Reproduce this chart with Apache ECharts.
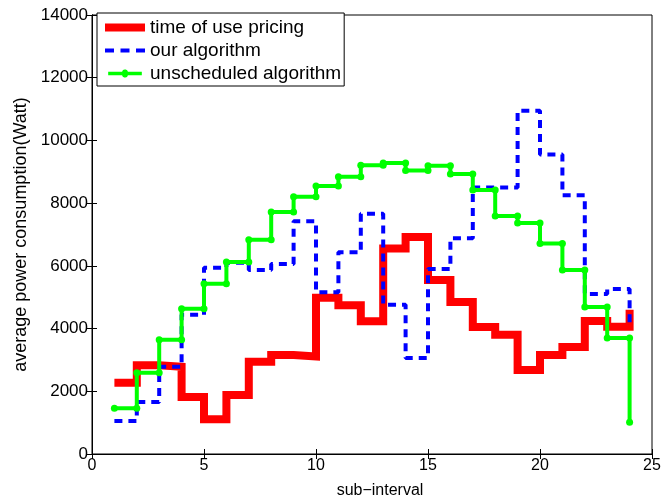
<!DOCTYPE html>
<html>
<head>
<meta charset="utf-8">
<script src="https://cdn.jsdelivr.net/npm/echarts@6/dist/echarts.min.js"></script>
<style>
  html, body { margin: 0; padding: 0; background: #fff; }
  #chart { width: 671px; height: 499px; }
</style>
</head>
<body>
<div id="chart"></div>
<script>
// sub-interval index
var subInterval = [1, 2, 3, 4, 5, 6, 7, 8, 9, 10, 11, 12, 13, 14, 15, 16, 17, 18, 19, 20, 21, 22, 23, 24];

// average power consumption (Watt)
var touPricing = [2270, 2830, 2780, 1820, 1110, 1880, 2940, 3160, 3110, 4980, 4740, 4230, 6550, 6920, 5550, 4850, 4050, 3800, 2680, 3160, 3410, 4240, 4060, 4600];
var ourAlgorithm = [1050, 1660, 2780, 4440, 5940, 6100, 5870, 6060, 7420, 5160, 6430, 7660, 4760, 3060, 5900, 6880, 8500, 8500, 10950, 9550, 8250, 5100, 5260, 4130];
var unscheduled = [1460, 2590, 3640, 4630, 5430, 6120, 6830, 7720, 8200, 8550, 8840, 9210, 9280, 9040, 9190, 8930, 8420, 7590, 7370, 6710, 5870, 4690, 3700, 1010];

var seriesNames = ["time of use pricing", "our algorithm", "unscheduled algorithm"];

// matlab stairs(): horizontal to next x, then vertical
function stairs(xs, ys) {
  var pts = [];
  for (var i = 0; i < xs.length; i++) {
    pts.push([xs[i], ys[i]]);
    if (i + 1 < xs.length) pts.push([xs[i + 1], ys[i]]);
  }
  return pts;
}

var myChart = echarts.init(document.getElementById("chart"));

var font = "Liberation Sans, Arial, sans-serif";

// legend samples like matlab: thick line / dashes / line with marker
var icons = [
  "path://M0,0L40,0L40,8L0,8Z",
  "path://M0,2L9,2L9,6L0,6ZM15.5,2L24.5,2L24.5,6L15.5,6ZM31,2L40,2L40,6L31,6Z",
  "path://M0,2L16.5,2A3.6,3.6 0 0 1 23.5,2L40,2L40,6L23.5,6A3.6,3.6 0 0 1 16.5,6L0,6Z",
];

var option = {
  animation: false,
  backgroundColor: "#fff",
  grid: {
    left: 92,
    right: 19,
    top: 15,
    bottom: 45,
    outerBoundsMode: "none",
    show: true,
    borderColor: "#000",
    borderWidth: 1,
  },
  legend: {
    left: 97,
    top: 13,
    orient: "vertical",
    backgroundColor: "#fff",
    borderColor: "#000",
    borderWidth: 1,
    borderRadius: 0,
    padding: [5, 3, 3, 8],
    itemGap: 4,
    itemWidth: 40,
    itemHeight: 8,
    symbolKeepAspect: true,
    textStyle: { fontFamily: font, fontSize: 19, color: "#000", lineHeight: 18 },
    data: [
      { name: seriesNames[0], icon: icons[0] },
      { name: seriesNames[1], icon: icons[1] },
      { name: seriesNames[2], icon: icons[2] },
    ],
  },
  xAxis: [
    {
      type: "value",
      min: 0,
      max: 25,
      interval: 5,
      name: "sub\u2212interval",
      nameLocation: "middle",
      nameGap: 29,
      nameTextStyle: { fontFamily: font, fontSize: 16, color: "#000", padding: [0, 0, 0, 16] },
      axisLine: { onZero: false, lineStyle: { color: "#000" } },
      axisTick: { inside: true, length: 5, lineStyle: { color: "#000" } },
      axisLabel: { fontFamily: font, fontSize: 16, color: "#000", margin: 4 },
      splitLine: { show: false },
    },
    {
      type: "value",
      position: "top",
      min: 0,
      max: 25,
      interval: 5,
      axisLine: { lineStyle: { color: "#000" } },
      axisTick: { inside: true, length: 5, lineStyle: { color: "#000" } },
      axisLabel: { show: false },
      splitLine: { show: false },
    },
  ],
  yAxis: [
    {
      type: "value",
      min: 0,
      max: 14000,
      interval: 2000,
      name: "average power consumption(Watt)",
      nameLocation: "middle",
      nameGap: 61,
      nameTextStyle: { fontFamily: font, fontSize: 18, color: "#000" },
      axisLine: { show: true, lineStyle: { color: "#000" } },
      axisTick: { show: true, inside: true, length: 5, lineStyle: { color: "#000" } },
      axisLabel: {
        fontFamily: font,
        fontSize: 17,
        color: "#000",
        margin: 4,
        formatter: function (v) { return String(v); },
      },
      splitLine: { show: false },
    },
    {
      type: "value",
      position: "right",
      min: 0,
      max: 14000,
      interval: 2000,
      axisLine: { show: true, lineStyle: { color: "#000" } },
      axisTick: { show: true, inside: true, length: 5, lineStyle: { color: "#000" } },
      axisLabel: { show: false },
      splitLine: { show: false },
    },
  ],
  series: [
    {
      name: seriesNames[1],
      type: "line",
      z: 3,
      data: stairs(subInterval, ourAlgorithm),
      symbol: "none",
      color: "#0000ff",
      lineStyle: { color: "#0000ff", width: 4, type: [8, 6] },
    },
    {
      name: seriesNames[0],
      type: "line",
      z: 2,
      data: stairs(subInterval, touPricing),
      symbol: "none",
      color: "#ff0000",
      lineStyle: { color: "#ff0000", width: 8, join: "miter" },
    },
    {
      name: seriesNames[2],
      type: "line",
      z: 4,
      data: stairs(subInterval, unscheduled),
      symbol: "circle",
      symbolSize: 7,
      color: "#00ff00",
      itemStyle: { color: "#00ff00" },
      lineStyle: { color: "#00ff00", width: 4 },
    },
  ],
};

myChart.setOption(option);
window.addEventListener("resize", myChart.resize);
</script>
</body>
</html>
